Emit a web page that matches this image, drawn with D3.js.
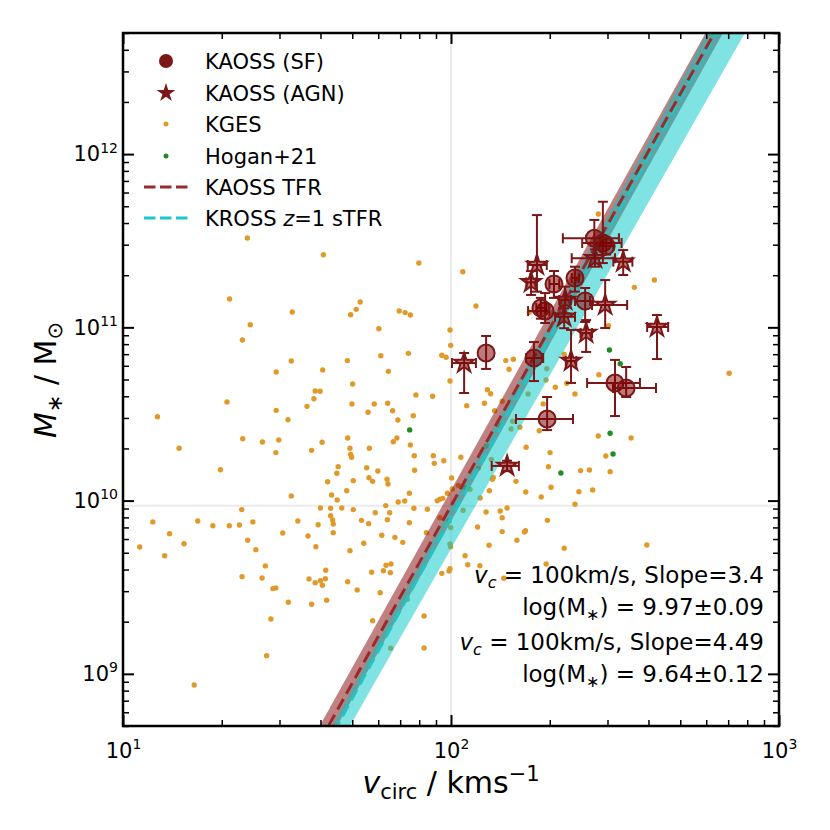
<!DOCTYPE html>
<html>
<head>
<meta charset="utf-8">
<script src="https://cdn.jsdelivr.net/npm/d3@7"></script>
<style>
  body { margin: 0; background: #fff; }
  svg { display: block; }
</style>
</head>
<body>
<div id="chart"></div>
<script>
// all values are log10: v_circ in km/s, M* in Msun

// KGES
const kgesLogV = [1.325, 1.516, 1.388, 1.364, 1.513, 1.467, 1.609, 1.586, 1.601, 1.582, 1.561, 1.317, 1.467, 1.105, 1.503,
  1.365, 1.425, 1.475, 1.607, 1.466, 1.575, 1.171, 1.297, 1.656, 1.652, 1.624, 1.902, 2.036, 1.723, 1.711, 1.694, 1.842,
  1.860, 1.876, 2.076, 1.780, 1.997, 1.999, 1.684, 1.786, 1.870, 1.972, 1.985, 1.809, 1.700, 1.997, 2.167, 2.190, 2.177,
  2.239, 2.292, 2.290, 1.698, 1.766, 1.807, 1.893, 1.944, 1.747, 1.822, 1.838, 1.885, 2.111, 2.121, 2.048, 2.102, 2.235,
  2.156, 2.133, 2.281, 2.147, 2.188, 2.183, 2.210, 2.269, 1.685, 1.835, 1.824, 1.876, 1.692, 1.751, 1.694, 1.697, 1.888,
  1.946, 1.949, 1.978, 2.030, 2.107, 2.123, 2.229, 2.302, 2.297, 2.305, 1.743, 1.777, 1.750, 1.761, 1.702, 1.805, 1.808,
  1.889, 2.002, 2.083, 2.129, 2.126, 2.198, 1.682, 1.636, 1.653, 1.873, 1.989, 2.004, 2.022, 2.041, 2.058, 2.117, 2.228,
  2.275, 1.839, 1.859, 1.958, 1.966, 1.975, 2.089, 1.667, 1.702, 1.633, 1.769, 1.801, 1.813, 1.887, 1.928, 2.037, 2.107,
  2.150, 2.171, 2.156, 1.639, 1.641, 1.727, 1.749, 1.806, 1.873, 1.966, 1.994, 1.999, 1.641, 2.081, 2.156, 2.227, 2.224,
  2.294, 1.789, 1.829, 1.925, 1.734, 1.853, 1.997, 1.999, 2.116, 2.201, 2.345, 1.692, 2.043, 1.802, 1.817, 1.758, 1.794,
  1.815, 2.051, 2.088, 1.997, 1.972, 1.994, 1.685, 1.714, 1.784, 2.161, 2.290, 1.761, 1.867, 1.918, 1.816, 1.918, 1.513,
  1.602, 1.633, 1.595, 1.362, 1.091, 1.228, 1.274, 1.324, 1.355, 1.396, 1.533, 1.142, 1.487, 1.564, 1.588, 1.186, 1.380,
  1.051, 1.127, 1.405, 1.434, 1.618, 1.363, 1.424, 1.567, 1.602, 1.617, 1.586, 1.608, 1.457, 1.466, 1.504, 1.575, 1.621,
  1.451, 1.438, 1.217, 2.449, 2.620, 2.559, 2.353, 2.378, 2.345, 2.318, 2.480, 2.451, 2.449, 2.472, 2.549, 2.485, 2.422,
  2.395, 2.848, 2.390, 2.432, 2.378, 2.597, 1.379, 1.611];
const kgesLogM = [11.164, 11.089, 11.015, 10.927, 10.806, 10.742, 10.754, 10.633, 10.631, 10.588, 10.544, 10.569, 10.521,
  10.484, 10.467, 10.357, 10.338, 10.350, 10.337, 10.277, 10.290, 10.302, 10.178, 10.196, 10.158, 10.109, 11.371, 11.321,
  11.146, 11.104, 11.073, 11.094, 11.085, 11.071, 11.123, 10.992, 10.985, 10.896, 10.808, 10.836, 10.850, 10.839, 10.827,
  10.746, 10.673, 10.690, 10.808, 10.816, 10.758, 11.087, 10.761, 10.696, 10.558, 10.558, 10.562, 10.610, 10.602, 10.510,
  10.519, 10.465, 10.490, 10.640, 10.617, 10.548, 10.562, 10.615, 10.573, 10.519, 10.558, 10.435, 10.458, 10.413, 10.423,
  10.403, 10.361, 10.361, 10.340, 10.321, 10.302, 10.302, 10.267, 10.250, 10.259, 10.259, 10.215, 10.230, 10.250, 10.315,
  10.238, 10.308, 10.277, 10.196, 10.077, 10.190, 10.171, 10.132, 10.111, 10.115, 10.123, 10.096, 10.175, 10.131, 10.186,
  10.134, 10.123, 10.111, 10.057, 10.032, 10.004, 10.042, 10.042, 10.067, 10.088, 10.077, 10.065, 10.057, 10.050, 10.021,
  9.992, 9.998, 9.999, 10.008, 10.013, 10.015, 9.957, 9.948, 9.956, 9.930, 9.971, 9.930, 9.956, 9.950, 9.944, 9.934, 9.940,
  9.957, 9.901, 9.888, 9.865, 9.886, 9.867, 9.890, 9.872, 9.901, 9.882, 9.844, 9.815, 9.848, 9.821, 9.826, 9.819, 9.886,
  9.800, 9.788, 9.815, 9.754, 9.759, 9.750, 9.734, 9.742, 9.771, 9.725, 9.711, 9.682, 9.627, 9.634, 9.586, 9.595, 9.584,
  9.630, 9.624, 9.607, 9.580, 9.594, 9.532, 9.484, 9.468, 9.552, 9.634, 9.307, 9.430, 9.334, 9.148, 9.149, 10.027, 9.957,
  9.913, 9.861, 9.948, 9.877, 9.882, 9.855, 9.855, 9.859, 9.877, 9.882, 9.809, 9.813, 9.796, 9.734, 9.751, 9.771, 9.732,
  9.682, 9.717, 9.623, 9.598, 9.561, 9.553, 9.548, 9.538, 9.549, 9.526, 9.511, 9.492, 9.496, 9.413, 9.402, 9.425, 9.317,
  9.105, 8.936, 11.654, 11.273, 11.231, 10.677, 10.615, 10.845, 10.654, 11.010, 10.727, 10.373, 10.257, 10.361, 10.167,
  10.177, 10.173, 10.735, 10.051, 10.061, 9.979, 9.744, 11.516, 11.419];

// Hogan+21
const hoganLogV = [1.874, 2.335, 2.483, 2.516, 2.485, 2.494];
const hoganLogM = [10.408, 10.159, 10.869, 10.790, 10.389, 10.269];

// KAOSS star-forming
const sfLogV   = [2.107, 2.253, 2.293, 2.500, 2.534, 2.314, 2.378, 2.409, 2.287, 2.274, 2.437, 2.463, 2.473];
const sfLogM   = [10.852, 10.823, 10.471, 10.679, 10.650, 11.250, 11.285, 11.152, 11.094, 11.112, 11.514, 11.487, 11.470];
const sfLogVLo = [2.107, 2.229, 2.198, 2.415, 2.494, 2.300, 2.368, 2.378, 2.235, 2.260, 2.341, 2.400, 2.450];
const sfLogVHi = [2.107, 2.281, 2.372, 2.576, 2.625, 2.330, 2.390, 2.424, 2.300, 2.290, 2.512, 2.520, 2.495];
const sfLogMLo = [10.760, 10.690, 10.407, 10.488, 10.598, 11.170, 11.206, 11.031, 11.025, 11.050, 11.400, 11.371, 11.420];
const sfLogMHi = [10.950, 10.915, 10.598, 10.812, 10.771, 11.325, 11.350, 11.227, 11.198, 11.170, 11.620, 11.725, 11.520];

// KAOSS AGN
const agnLogV   = [2.040, 2.262, 2.244, 2.348, 2.345, 2.412, 2.366, 2.470, 2.439, 2.525, 2.628, 2.171];
const agnLogM   = [10.794, 11.360, 11.260, 11.158, 11.061, 10.967, 10.806, 11.129, 11.399, 11.379, 11.002, 10.200];
const agnLogVLo = [2.003, 2.234, 2.230, 2.330, 2.317, 2.395, 2.350, 2.430, 2.368, 2.495, 2.598, 2.124];
const agnLogVHi = [2.076, 2.292, 2.258, 2.366, 2.378, 2.430, 2.382, 2.537, 2.500, 2.553, 2.662, 2.207];
const agnLogMLo = [10.621, 11.206, 11.187, 11.081, 10.995, 10.858, 10.679, 10.996, 11.350, 11.302, 10.817, 10.170];
const agnLogMHi = [10.852, 11.648, 11.325, 11.235, 11.110, 11.042, 10.985, 11.273, 11.450, 11.446, 11.071, 10.230];

// TFR fits, log M = zero + slope * (log v - 2)
const fitNames     = ["KAOSS TFR", "KROSS z=1 sTFR"];
const fitSlope     = [3.4, 3.46];
const fitZero      = [9.97, 9.90];
const bandUpSlope  = [3.4, 3.498];
const bandUpZero   = [10.06, 9.969];
const bandLoSlope  = [3.4, 3.322];
const bandLoZero   = [9.88, 9.722];

// annotation
const noteSlopes = ["3.4", "4.49"];
const noteZeros  = ["9.97±0.09", "9.64±0.12"];

// ticks
const xMajor = [10, 100, 1000];
const yMajor = [1e9, 1e10, 1e11, 1e12];

const W = 830, H = 830;
const pLeft = 123, pRight = 779, pTop = 33, pBottom = 726;
const darkRed = "#7b1717", orange = "#e09a2a", green = "#228b22";
const redBand = "#8b1a1a", cyan = "#00c8c8";
const font = "'DejaVu Sans', sans-serif";

const x = d3.scaleLog().domain([10, 1000]).range([pLeft, pRight]);
const y = d3.scaleLog().domain([5e8, 5e12]).range([pBottom, pTop]);
const px = lv => x(Math.pow(10, lv));
const py = lm => y(Math.pow(10, lm));

const svg = d3.select("#chart").append("svg")
    .attr("width", W)
    .attr("height", H)
    .style("font-family", font);

svg.append("rect").attr("width", W).attr("height", H).attr("fill", "#fff");

svg.append("defs").append("clipPath").attr("id", "clip")
    .append("rect")
    .attr("x", pLeft).attr("y", pTop)
    .attr("width", pRight - pLeft).attr("height", pBottom - pTop);

const plot = svg.append("g").attr("clip-path", "url(#clip)");

// reference lines at the pivot
plot.append("line")
    .attr("x1", x(100)).attr("x2", x(100))
    .attr("y1", pTop).attr("y2", pBottom)
    .attr("stroke", "#ebebeb").attr("stroke-width", 2);
plot.append("line")
    .attr("x1", pLeft).attr("x2", pRight)
    .attr("y1", py(fitZero[0])).attr("y2", py(fitZero[0]))
    .attr("stroke", "#ebebeb").attr("stroke-width", 2);

// KGES and Hogan points
plot.selectAll("circle.kges")
    .data(d3.range(kgesLogV.length))
    .join("circle")
    .attr("class", "kges")
    .attr("cx", i => px(kgesLogV[i]))
    .attr("cy", i => py(kgesLogM[i]))
    .attr("r", 2.7)
    .attr("fill", orange);

plot.selectAll("circle.hogan")
    .data(d3.range(hoganLogV.length))
    .join("circle")
    .attr("class", "hogan")
    .attr("cx", i => px(hoganLogV[i]))
    .attr("cy", i => py(hoganLogM[i]))
    .attr("r", 2.7)
    .attr("fill", green);

// fit bands and lines
const tfr = (s, z, lv) => z + s * (lv - 2);
const lvSpan = [0.8, 3.2];
const bandColor = [redBand, cyan];
const bandOpacity = [0.55, 0.5];
const lineColor = ["#9b2b2b", "#22c4c4"];

fitNames.forEach((name, k) => {
    const pts = lvSpan.map(lv => [px(lv), py(tfr(bandUpSlope[k], bandUpZero[k], lv))])
        .concat(lvSpan.slice().reverse().map(lv => [px(lv), py(tfr(bandLoSlope[k], bandLoZero[k], lv))]));
    plot.append("path")
        .attr("d", d3.line()(pts) + "Z")
        .attr("fill", bandColor[k])
        .attr("fill-opacity", bandOpacity[k]);
});

fitNames.slice().reverse().forEach((name, j) => {
    const k = fitNames.length - 1 - j;
    const pts = lvSpan.map(lv => [px(lv), py(tfr(fitSlope[k], fitZero[k], lv))]);
    plot.append("path")
        .attr("d", d3.line()(pts))
        .attr("fill", "none")
        .attr("stroke", lineColor[k])
        .attr("stroke-width", 3)
        .attr("stroke-dasharray", "12,6");
});

// KAOSS points with error bars
function drawKaoss(lv, lm, vlo, vhi, mlo, mhi, type, size) {
    const g = svg.append("g");
    const idx = d3.range(lv.length);
    const cap = 5;
    g.selectAll("g.eb").data(idx).join("g")
        .attr("stroke", darkRed)
        .attr("stroke-width", 2)
        .each(function (i) {
            const e = d3.select(this);
            const cx = px(lv[i]), cy = py(lm[i]);
            if (vhi[i] > vlo[i]) {
                const x1 = px(vlo[i]), x2 = px(vhi[i]);
                e.append("line").attr("x1", x1).attr("x2", x2).attr("y1", cy).attr("y2", cy);
                e.append("line").attr("x1", x1).attr("x2", x1).attr("y1", cy - cap).attr("y2", cy + cap);
                e.append("line").attr("x1", x2).attr("x2", x2).attr("y1", cy - cap).attr("y2", cy + cap);
            }
            if (mhi[i] > mlo[i]) {
                const y1 = py(mlo[i]), y2 = py(mhi[i]);
                e.append("line").attr("x1", cx).attr("x2", cx).attr("y1", y1).attr("y2", y2);
                e.append("line").attr("x1", cx - cap).attr("x2", cx + cap).attr("y1", y1).attr("y2", y1);
                e.append("line").attr("x1", cx - cap).attr("x2", cx + cap).attr("y1", y2).attr("y2", y2);
            }
        });
    g.selectAll("path.mk").data(idx).join("path")
        .attr("transform", i => `translate(${px(lv[i])},${py(lm[i])})`)
        .attr("d", d3.symbol().type(type).size(size))
        .attr("fill", "#800000")
        .attr("fill-opacity", 0.52)
        .attr("stroke", darkRed)
        .attr("stroke-width", 2);
}

drawKaoss(sfLogV, sfLogM, sfLogVLo, sfLogVHi, sfLogMLo, sfLogMHi, d3.symbolCircle, 227);
drawKaoss(agnLogV, agnLogM, agnLogVLo, agnLogVHi, agnLogMLo, agnLogMHi, d3.symbolStar, 120);

// axes, ticks pointing inward on all four sides
const xMinor = [], yMinor = [];
[10, 100].forEach(d => d3.range(2, 10).forEach(k => xMinor.push(d * k)));
[1e8, 1e9, 1e10, 1e11, 1e12].forEach(d => d3.range(2, 10).forEach(k => {
    const v = d * k;
    if (v >= 5e8 && v <= 5e12) yMinor.push(v);
}));

function sciLabels(g) {
    g.selectAll(".tick text").each(function (d) {
        const t = d3.select(this);
        const e = Math.round(Math.log10(d));
        t.text(null);
        t.append("tspan").text("10");
        t.append("tspan").attr("dy", "-0.62em").attr("font-size", "14px").text(e);
    });
}

function tidy(g, w) {
    g.select(".domain").remove();
    g.selectAll(".tick line").attr("stroke", "#000").attr("stroke-width", w);
    g.selectAll(".tick text").attr("fill", "#000").attr("font-size", "21px").attr("font-family", font);
}

svg.append("g").attr("transform", `translate(0,${pBottom})`)
    .call(d3.axisBottom(x).tickValues(xMinor).tickSize(-6).tickFormat(""))
    .call(g => tidy(g, 1.5));
svg.append("g").attr("transform", `translate(0,${pTop})`)
    .call(d3.axisTop(x).tickValues(xMinor).tickSize(-6).tickFormat(""))
    .call(g => tidy(g, 1.5));
svg.append("g").attr("transform", `translate(${pLeft},0)`)
    .call(d3.axisLeft(y).tickValues(yMinor).tickSize(-6).tickFormat(""))
    .call(g => tidy(g, 1.5));
svg.append("g").attr("transform", `translate(${pRight},0)`)
    .call(d3.axisRight(y).tickValues(yMinor).tickSize(-6).tickFormat(""))
    .call(g => tidy(g, 1.5));

svg.append("g").attr("transform", `translate(0,${pBottom})`)
    .call(d3.axisBottom(x).tickValues(xMajor).tickSize(-11).tickPadding(17))
    .call(g => tidy(g, 2))
    .call(sciLabels);
svg.append("g").attr("transform", `translate(0,${pTop})`)
    .call(d3.axisTop(x).tickValues(xMajor).tickSize(-11).tickFormat(""))
    .call(g => tidy(g, 2));
svg.append("g").attr("transform", `translate(${pLeft},0)`)
    .call(d3.axisLeft(y).tickValues(yMajor).tickSize(-11).tickPadding(5))
    .call(g => tidy(g, 2))
    .call(sciLabels);
svg.append("g").attr("transform", `translate(${pRight},0)`)
    .call(d3.axisRight(y).tickValues(yMajor).tickSize(-11).tickFormat(""))
    .call(g => tidy(g, 2));

svg.append("rect")
    .attr("x", pLeft).attr("y", pTop)
    .attr("width", pRight - pLeft).attr("height", pBottom - pTop)
    .attr("fill", "none").attr("stroke", "#000").attr("stroke-width", 2.5);

// axis labels
const xl = svg.append("text")
    .attr("x", (pLeft + pRight) / 2).attr("y", 793)
    .attr("text-anchor", "middle")
    .attr("font-size", "30px");
xl.append("tspan").attr("font-style", "italic").text("v");
xl.append("tspan").attr("font-size", "21px").attr("dy", "6").text("circ");
xl.append("tspan").attr("dy", "-6").text(" / kms");
xl.append("tspan").attr("font-size", "21px").attr("dy", "-12").text("−1");

const yl = svg.append("text")
    .attr("transform", "translate(56,380) rotate(-90)")
    .attr("text-anchor", "middle")
    .attr("font-size", "30px");
yl.append("tspan").attr("font-style", "italic").text("M");
yl.append("tspan").attr("font-size", "21px").attr("dy", "6").text("∗");
yl.append("tspan").attr("dy", "-6").text(" / M");
yl.append("tspan").attr("font-size", "21px").attr("dy", "6").text("⊙");

// annotation
const noteX = 764;
const noteBase = [583, 615, 650, 682];
noteSlopes.forEach((s, k) => {
    const t1 = svg.append("text").attr("x", noteX).attr("y", noteBase[2 * k])
        .attr("text-anchor", "end").attr("font-size", "23px");
    t1.append("tspan").attr("font-style", "italic").text("v");
    t1.append("tspan").attr("font-style", "italic").attr("font-size", "16px").attr("dy", "5").text("c");
    t1.append("tspan").attr("dy", "-5").text(" = 100km/s, Slope=" + s);
    const t2 = svg.append("text").attr("x", noteX).attr("y", noteBase[2 * k + 1])
        .attr("text-anchor", "end").attr("font-size", "23px");
    t2.append("tspan").text("log(M");
    t2.append("tspan").attr("font-size", "16px").attr("dy", "5").text("∗");
    t2.append("tspan").attr("dy", "-5").text(") = " + noteZeros[k]);
});

// legend
const legX = 166, legText = 205;
const legY = [61, 93, 124, 156, 187, 218];
const leg = svg.append("g");
leg.append("circle").attr("cx", legX).attr("cy", legY[0]).attr("r", 7).attr("fill", darkRed);
leg.append("path").attr("transform", `translate(${legX},${legY[1]})`)
    .attr("d", d3.symbol().type(d3.symbolStar).size(110)).attr("fill", darkRed);
leg.append("circle").attr("cx", legX).attr("cy", legY[2]).attr("r", 2.5).attr("fill", orange);
leg.append("circle").attr("cx", legX).attr("cy", legY[3]).attr("r", 2.5).attr("fill", green);
[0, 1].forEach(k => {
    leg.append("line")
        .attr("x1", 144).attr("x2", 188)
        .attr("y1", legY[4 + k]).attr("y2", legY[4 + k])
        .attr("stroke", lineColor[k]).attr("stroke-width", 3.2)
        .attr("stroke-dasharray", "11.5,4.5");
});
const legLabels = ["KAOSS (SF)", "KAOSS (AGN)", "KGES", "Hogan+21", fitNames[0]];
legLabels.forEach((s, k) => {
    leg.append("text").attr("x", legText).attr("y", legY[k]).attr("dy", "0.36em")
        .attr("font-size", "21px").text(s);
});
const kl = leg.append("text").attr("x", legText).attr("y", legY[5]).attr("dy", "0.36em").attr("font-size", "21px");
kl.append("tspan").text("KROSS ");
kl.append("tspan").attr("font-style", "italic").text("z");
kl.append("tspan").text("=1 sTFR");
</script>
</body>
</html>
